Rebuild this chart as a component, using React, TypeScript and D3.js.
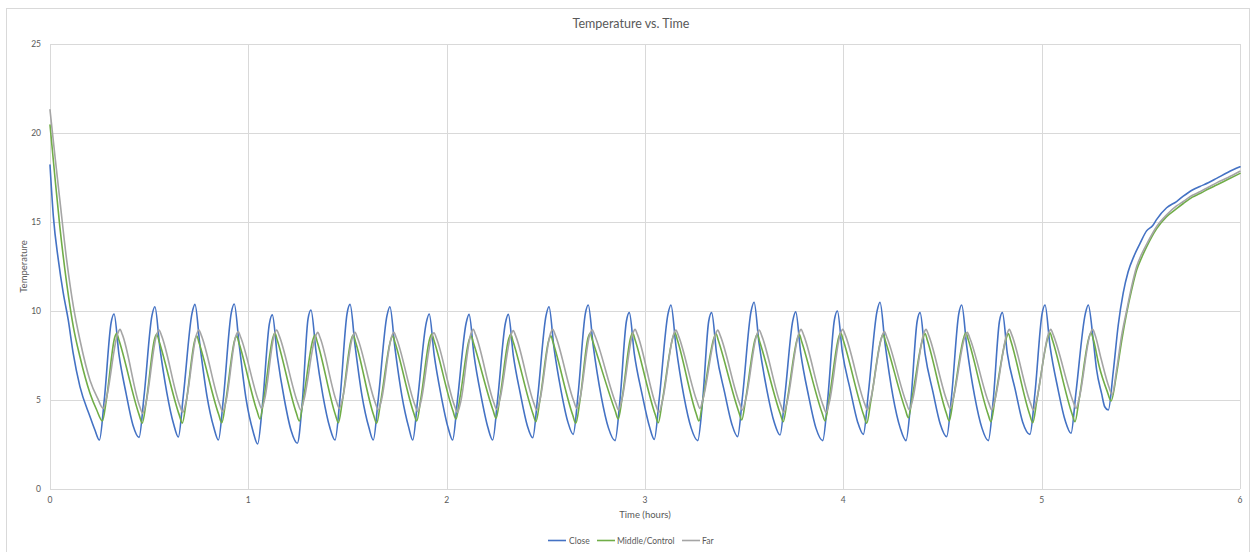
import React from "react";
import * as d3 from "d3";

// ---------- data (time in hours, temperature) ----------
const xTicks = [0, 1, 2, 3, 4, 5, 6];
const yTicks = [0, 5, 10, 15, 20, 25];
const seriesNames = ["Close", "Middle/Control", "Far"];
const seriesColors = ["#4472C4", "#70AD47", "#A5A5A5"];

const closeSeries: [number, number][] = [
  [0, 18.2], [0.017, 15.3], [0.042, 12.87], [0.067, 11.0], [0.092, 9.5], [0.117, 7.62], [0.151, 5.75], [0.202, 4.06], [0.227, 3.3],
  [0.249, 2.75], [0.274, 5.05], [0.308, 9.33], [0.323, 9.83], [0.348, 7.53], [0.383, 5.4], [0.418, 3.6],
  [0.449, 2.9], [0.474, 5.2], [0.514, 9.74], [0.529, 10.24], [0.554, 7.94], [0.589, 5.42], [0.624, 3.62],
  [0.647, 2.92], [0.672, 5.22], [0.716, 9.87], [0.731, 10.37], [0.756, 8.07], [0.791, 5.25], [0.826, 3.45],
  [0.849, 2.75], [0.874, 5.05], [0.914, 9.89], [0.929, 10.39], [0.954, 8.09], [0.989, 5.03], [1.024, 3.23],
  [1.047, 2.53], [1.072, 4.83], [1.106, 9.28], [1.121, 9.78], [1.146, 7.48], [1.181, 5.07], [1.216, 3.27],
  [1.247, 2.57], [1.272, 4.87], [1.301, 9.56], [1.316, 10.06], [1.341, 7.76], [1.376, 5.25], [1.411, 3.45],
  [1.437, 2.75], [1.462, 5.05], [1.498, 9.87], [1.513, 10.37], [1.538, 8.07], [1.573, 5.25], [1.608, 3.45],
  [1.63, 2.75], [1.655, 5.05], [1.699, 9.74], [1.714, 10.24], [1.739, 7.94], [1.774, 5.25], [1.809, 3.45],
  [1.829, 2.75], [1.854, 5.05], [1.897, 9.33], [1.912, 9.83], [1.937, 7.53], [1.972, 5.25], [2.007, 3.45],
  [2.03, 2.75], [2.055, 5.05], [2.098, 9.31], [2.113, 9.81], [2.138, 7.51], [2.173, 5.25], [2.208, 3.45],
  [2.232, 2.75], [2.257, 5.05], [2.296, 9.31], [2.311, 9.81], [2.336, 7.51], [2.371, 5.38], [2.406, 3.58],
  [2.434, 2.88], [2.459, 5.18], [2.501, 9.74], [2.516, 10.24], [2.541, 7.94], [2.576, 5.57], [2.611, 3.77],
  [2.638, 3.07], [2.663, 5.37], [2.699, 9.84], [2.714, 10.34], [2.739, 8.04], [2.779, 5.22], [2.816, 3.42],
  [2.849, 2.72], [2.874, 5.02], [2.906, 9.41], [2.921, 9.91], [2.946, 7.61], [2.986, 5.29], [3.023, 3.49],
  [3.047, 2.79], [3.072, 5.09], [3.116, 9.84], [3.131, 10.34], [3.156, 8.04], [3.196, 5.22], [3.233, 3.42],
  [3.266, 2.72], [3.291, 5.02], [3.321, 9.41], [3.336, 9.91], [3.361, 7.61], [3.401, 5.44], [3.438, 3.64],
  [3.467, 2.94], [3.492, 5.24], [3.535, 9.99], [3.55, 10.49], [3.575, 8.19], [3.615, 5.53], [3.652, 3.73],
  [3.681, 3.03], [3.706, 5.33], [3.745, 9.45], [3.76, 9.95], [3.785, 7.65], [3.825, 5.22], [3.862, 3.42],
  [3.896, 2.72], [3.921, 5.02], [3.955, 9.5], [3.97, 10.0], [3.995, 7.7], [4.035, 5.57], [4.072, 3.77],
  [4.101, 3.07], [4.126, 5.37], [4.17, 9.99], [4.185, 10.49], [4.21, 8.19], [4.25, 5.22], [4.287, 3.42],
  [4.316, 2.72], [4.341, 5.02], [4.372, 9.41], [4.387, 9.91], [4.412, 7.61], [4.452, 5.44], [4.489, 3.64],
  [4.521, 2.94], [4.546, 5.24], [4.582, 9.84], [4.597, 10.34], [4.622, 8.04], [4.662, 5.22], [4.699, 3.42],
  [4.731, 2.72], [4.756, 5.02], [4.787, 9.41], [4.802, 9.91], [4.827, 7.61], [4.867, 5.57], [4.904, 3.77],
  [4.941, 3.07], [4.966, 5.37], [5.002, 9.84], [5.017, 10.34], [5.042, 8.04], [5.082, 5.63], [5.119, 3.83],
  [5.148, 3.13], [5.173, 5.43], [5.22, 9.84], [5.235, 10.34], [5.26, 8.37], [5.277, 6.7], [5.302, 5.37], [5.318, 4.62],
  [5.336, 4.44], [5.361, 6.6], [5.386, 9.2], [5.411, 11.0], [5.436, 12.2], [5.466, 13.1], [5.496, 13.8], [5.529, 14.5],
  [5.56, 14.8], [5.58, 15.15], [5.63, 15.8], [5.68, 16.15], [5.714, 16.45], [5.76, 16.8], [5.798, 17.0], [5.84, 17.2],
  [5.882, 17.45], [5.94, 17.8], [6.0, 18.1],
];

const middleSeries: [number, number][] = [
  [0, 20.45], [0.025, 17.5], [0.05, 14.7], [0.084, 11.57], [0.118, 9.1], [0.151, 7.43], [0.202, 5.37], [0.235, 4.45],
  [0.264, 3.82], [0.284, 5.0], [0.326, 8.5], [0.336, 8.75], [0.348, 8.35], [0.45, 4.15],
  [0.465, 3.7], [0.485, 4.9], [0.528, 8.45], [0.538, 8.7], [0.55, 8.3], [0.652, 4.15],
  [0.667, 3.7], [0.687, 4.9], [0.73, 8.35], [0.74, 8.6], [0.752, 8.2], [0.851, 4.17],
  [0.866, 3.72], [0.886, 4.92], [0.931, 8.35], [0.941, 8.6], [0.953, 8.2], [1.044, 4.38],
  [1.059, 3.93], [1.079, 5.13], [1.124, 8.51], [1.134, 8.76], [1.146, 8.36], [1.242, 4.27],
  [1.257, 3.82], [1.277, 5.02], [1.326, 8.4], [1.336, 8.65], [1.348, 8.25], [1.439, 4.17],
  [1.454, 3.72], [1.474, 4.92], [1.519, 8.4], [1.529, 8.65], [1.541, 8.25], [1.632, 4.14],
  [1.647, 3.69], [1.667, 4.89], [1.718, 8.36], [1.728, 8.61], [1.74, 8.21], [1.834, 4.27],
  [1.849, 3.82], [1.869, 5.02], [1.915, 8.46], [1.925, 8.71], [1.937, 8.31], [2.032, 4.38],
  [2.047, 3.93], [2.067, 5.13], [2.113, 8.36], [2.123, 8.61], [2.135, 8.21], [2.234, 4.42],
  [2.249, 3.97], [2.269, 5.17], [2.313, 8.44], [2.323, 8.69], [2.335, 8.29], [2.435, 4.23],
  [2.45, 3.78], [2.47, 4.98], [2.515, 8.36], [2.525, 8.61], [2.537, 8.21], [2.636, 4.14],
  [2.651, 3.69], [2.671, 4.89], [2.713, 8.5], [2.723, 8.75], [2.735, 8.35], [2.85, 4.38],
  [2.865, 3.93], [2.885, 5.13], [2.928, 8.53], [2.938, 8.78], [2.95, 8.38], [3.052, 4.17],
  [3.067, 3.72], [3.087, 4.92], [3.141, 8.53], [3.151, 8.78], [3.163, 8.38], [3.257, 4.27],
  [3.272, 3.82], [3.292, 5.02], [3.348, 8.49], [3.358, 8.74], [3.37, 8.34], [3.473, 4.33],
  [3.488, 3.88], [3.508, 5.08], [3.556, 8.44], [3.566, 8.69], [3.578, 8.29], [3.682, 4.23],
  [3.697, 3.78], [3.717, 4.98], [3.768, 8.44], [3.778, 8.69], [3.79, 8.29], [3.893, 4.27],
  [3.908, 3.82], [3.928, 5.02], [3.977, 8.53], [3.987, 8.78], [3.999, 8.38], [4.103, 4.14],
  [4.118, 3.69], [4.138, 4.89], [4.191, 8.44], [4.201, 8.69], [4.213, 8.29], [4.313, 4.45],
  [4.328, 4.0], [4.348, 5.2], [4.402, 8.49], [4.412, 8.74], [4.424, 8.34], [4.519, 4.27],
  [4.534, 3.82], [4.554, 5.02], [4.608, 8.53], [4.618, 8.78], [4.63, 8.38], [4.729, 4.23],
  [4.744, 3.78], [4.764, 4.98], [4.822, 8.49], [4.832, 8.74], [4.844, 8.34], [4.94, 4.17],
  [4.955, 3.72], [4.975, 4.92], [5.032, 8.53], [5.042, 8.78], [5.054, 8.38], [5.153, 4.23],
  [5.168, 3.78], [5.188, 4.98], [5.239, 8.53], [5.249, 8.78], [5.261, 8.38], [5.29, 6.9], [5.33, 5.5],
  [5.35, 4.95], [5.378, 6.5], [5.403, 8.3], [5.428, 9.85], [5.454, 11.2], [5.479, 12.3], [5.504, 13.0], [5.529, 13.6],
  [5.58, 14.63], [5.63, 15.3], [5.68, 15.75], [5.714, 16.04], [5.76, 16.4], [5.798, 16.6], [5.84, 16.85], [5.882, 17.08],
  [5.94, 17.4], [6.0, 17.73],
];

const farSeries: [number, number][] = [
  [0, 21.3], [0.025, 18.7], [0.05, 16.2], [0.084, 12.87], [0.118, 10.24], [0.151, 8.37], [0.202, 6.1], [0.24, 5.1],
  [0.268, 4.53], [0.284, 5.08], [0.341, 8.72], [0.353, 8.97], [0.365, 8.67], [0.452, 4.65],
  [0.467, 4.25], [0.483, 4.8], [0.538, 8.68], [0.55, 8.93], [0.562, 8.63], [0.654, 4.7],
  [0.669, 4.3], [0.685, 4.85], [0.739, 8.68], [0.751, 8.93], [0.763, 8.63], [0.856, 4.75],
  [0.871, 4.35], [0.887, 4.9], [0.937, 8.59], [0.949, 8.84], [0.961, 8.54], [1.052, 4.93],
  [1.067, 4.53], [1.083, 5.08], [1.131, 8.68], [1.143, 8.93], [1.155, 8.63], [1.249, 4.84],
  [1.264, 4.44], [1.28, 4.99], [1.338, 8.55], [1.35, 8.8], [1.362, 8.5], [1.444, 4.93],
  [1.459, 4.53], [1.475, 5.08], [1.526, 8.55], [1.538, 8.8], [1.55, 8.5], [1.64, 4.84],
  [1.655, 4.44], [1.671, 4.99], [1.722, 8.55], [1.734, 8.8], [1.746, 8.5], [1.839, 4.75],
  [1.854, 4.35], [1.87, 4.9], [1.924, 8.53], [1.936, 8.78], [1.948, 8.48], [2.039, 4.7],
  [2.054, 4.3], [2.07, 4.85], [2.122, 8.72], [2.134, 8.97], [2.146, 8.67], [2.237, 4.87],
  [2.252, 4.47], [2.268, 5.02], [2.324, 8.65], [2.336, 8.9], [2.348, 8.6], [2.439, 4.84],
  [2.454, 4.44], [2.47, 4.99], [2.523, 8.72], [2.535, 8.97], [2.547, 8.67], [2.641, 4.93],
  [2.656, 4.53], [2.672, 5.08], [2.722, 8.7], [2.734, 8.95], [2.746, 8.65], [2.852, 4.84],
  [2.867, 4.44], [2.883, 4.99], [2.938, 8.72], [2.95, 8.97], [2.962, 8.67], [3.055, 4.7],
  [3.07, 4.3], [3.086, 4.85], [3.144, 8.68], [3.156, 8.93], [3.168, 8.63], [3.262, 4.93],
  [3.277, 4.53], [3.293, 5.08], [3.355, 8.68], [3.367, 8.93], [3.379, 8.63], [3.476, 4.84],
  [3.491, 4.44], [3.507, 4.99], [3.564, 8.68], [3.576, 8.93], [3.588, 8.63], [3.685, 4.7],
  [3.7, 4.3], [3.716, 4.85], [3.775, 8.72], [3.787, 8.97], [3.799, 8.67], [3.898, 4.7],
  [3.913, 4.3], [3.929, 4.85], [3.985, 8.72], [3.997, 8.97], [4.009, 8.67], [4.106, 4.84],
  [4.121, 4.44], [4.137, 4.99], [4.195, 8.59], [4.207, 8.84], [4.219, 8.54], [4.318, 4.84],
  [4.333, 4.44], [4.349, 4.99], [4.405, 8.72], [4.417, 8.97], [4.429, 8.67], [4.523, 4.93],
  [4.538, 4.53], [4.554, 5.08], [4.613, 8.55], [4.625, 8.8], [4.637, 8.5], [4.733, 4.84],
  [4.748, 4.44], [4.764, 4.99], [4.825, 8.72], [4.837, 8.97], [4.849, 8.67], [4.943, 4.84],
  [4.958, 4.44], [4.974, 4.99], [5.034, 8.72], [5.046, 8.97], [5.058, 8.67], [5.158, 4.93],
  [5.173, 4.53], [5.189, 5.08], [5.245, 8.72], [5.257, 8.97], [5.269, 8.67], [5.3, 7.3], [5.34, 5.7],
  [5.355, 5.3], [5.378, 6.7], [5.403, 8.6], [5.428, 10.0], [5.454, 11.4], [5.479, 12.5], [5.504, 13.2], [5.529, 13.75],
  [5.58, 14.75], [5.63, 15.4], [5.68, 15.9], [5.714, 16.15], [5.76, 16.5], [5.798, 16.7], [5.84, 16.95], [5.882, 17.2],
  [5.94, 17.5], [6.0, 17.85],
];

const allSeries = [closeSeries, middleSeries, farSeries];

// ---------- layout ----------
const W = 1251;
const H = 552;
const plot = { left: 50, right: 1240, top: 44, bottom: 489 };
const FONT = "Lato, 'Open Sans', 'Liberation Sans', sans-serif";
const TEXT = "#595959";
const GRID = "#D9D9D9";

export default function App() {
  const x = d3.scaleLinear().domain([0, 6]).range([plot.left, plot.right]);
  const y = d3.scaleLinear().domain([0, 25]).range([plot.bottom, plot.top]);
  const line = d3
    .line<[number, number]>()
    .x((d) => x(d[0]))
    .y((d) => y(d[1]))
    .curve(d3.curveMonotoneX);

  const legendItems = [
    { x: 548, textX: 569 },
    { x: 597, textX: 617 },
    { x: 682, textX: 702 },
  ];

  return (
    <svg
      width={W}
      height={H}
      style={{ position: "absolute", left: 0, top: 0, background: "#fff" }}
      fontFamily={FONT}
    >
      <rect x={0} y={0} width={W} height={H} fill="#fff" />
      <rect x={6.5} y={8.5} width={1243} height={560} fill="none" stroke="#D9D9D9" strokeWidth={1} />

      <text x={631} y={28} textAnchor="middle" fontSize={12.5} fill={TEXT}>
        Temperature vs. Time
      </text>

      {/* horizontal grid */}
      {yTicks.map((t) => (
        <line key={"h" + t} x1={plot.left} x2={plot.right} y1={Math.round(y(t)) + 0.5} y2={Math.round(y(t)) + 0.5} stroke={GRID} strokeWidth={1} />
      ))}
      {/* vertical grid */}
      {xTicks.map((t) => (
        <line key={"v" + t} x1={Math.round(x(t)) + 0.5} x2={Math.round(x(t)) + 0.5} y1={plot.top} y2={plot.bottom} stroke={GRID} strokeWidth={1} />
      ))}

      {/* y tick labels */}
      {yTicks.map((t) => (
        <text key={"yl" + t} x={41} y={y(t) + 3} textAnchor="end" fontSize={8.5} fill={TEXT}>
          {t}
        </text>
      ))}
      {/* x tick labels */}
      {xTicks.map((t) => (
        <text key={"xl" + t} x={x(t)} y={503} textAnchor="middle" fontSize={8.5} fill={TEXT}>
          {t}
        </text>
      ))}

      <text x={645} y={518} textAnchor="middle" fontSize={9.5} fill={TEXT}>
        Time (hours)
      </text>
      <text transform={`translate(27, ${(plot.top + plot.bottom) / 2}) rotate(-90)`} textAnchor="middle" fontSize={9.5} fill={TEXT}>
        Temperature
      </text>

      {/* series */}
      {allSeries.map((s, i) => (
        <path key={"s" + i} d={line(s) || ""} fill="none" stroke={seriesColors[i]} strokeWidth={1.6} strokeLinejoin="round" strokeLinecap="round" />
      ))}

      {/* legend */}
      {seriesNames.map((n, i) => (
        <g key={"lg" + i}>
          <line x1={legendItems[i].x} x2={legendItems[i].x + 18} y1={540.5} y2={540.5} stroke={seriesColors[i]} strokeWidth={1.6} />
          <text x={legendItems[i].textX} y={543.5} fontSize={8.5} fill={TEXT}>
            {n}
          </text>
        </g>
      ))}
    </svg>
  );
}
